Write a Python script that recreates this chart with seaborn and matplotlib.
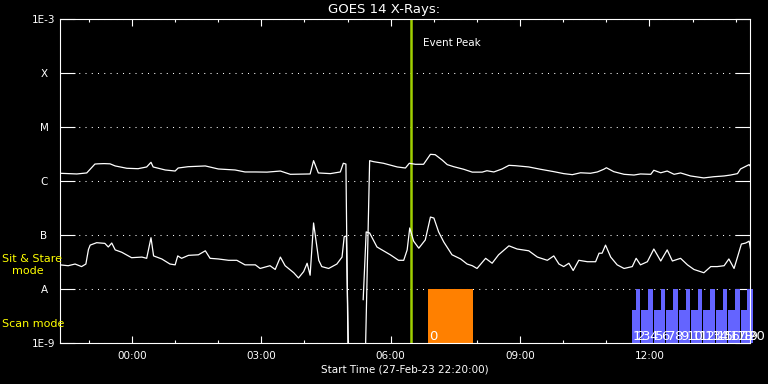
import numpy as np
import pandas as pd
import matplotlib
matplotlib.use("Agg")
import matplotlib.pyplot as plt
import matplotlib.dates as mdates
from matplotlib.ticker import NullLocator
import seaborn as sns

start = pd.Timestamp("2023-02-27 22:20:00")
span_h = 16.0

# GOES 14 long channel (1-8 A): hours since start, flux in 1e-6 W/m^2
long_h = [0.00, 0.39, 0.62, 0.81, 0.88, 1.02, 1.16, 1.28, 1.55, 1.81,
          2.01, 2.11, 2.16, 2.44, 2.67, 2.74, 2.97, 3.37, 3.67, 4.06,
          4.29, 4.53, 4.80, 5.11, 5.34, 5.80, 5.88, 5.99, 6.27, 6.50,
          6.57, 6.63, 6.69,
          7.06, 7.18, 7.27, 7.50, 7.82, 8.01, 8.10, 8.24, 8.43, 8.59,
          8.70, 8.86, 8.98, 9.13, 9.36, 9.56, 9.79, 9.90, 10.06, 10.25,
          10.41, 10.56, 10.87, 11.14, 11.45, 11.68, 11.88, 12.07, 12.30, 12.46,
          12.61, 12.67, 12.84, 13.08, 13.31, 13.46, 13.70, 13.77, 13.93, 14.08,
          14.24, 14.39, 14.62, 14.93, 15.16, 15.40, 15.55, 15.71, 15.78, 15.98,
          16.02]
long_flux = [1.39, 1.35, 1.41, 2.06, 2.08, 2.10, 2.08, 1.90, 1.72, 1.69,
             1.82, 2.22, 1.82, 1.60, 1.53, 1.74, 1.84, 1.90, 1.67, 1.60,
             1.47, 1.47, 1.46, 1.53, 1.33, 1.35, 2.38, 1.41, 1.37, 1.47,
             2.13, 2.06, 1e-4,
             1e-4, 2.38, 2.28, 2.13, 1.82, 1.74, 2.13, 2.04, 2.04, 3.12,
             3.07, 2.45, 2.01, 1.84, 1.65, 1.46, 1.46, 1.55, 1.47, 1.67,
             1.95, 1.92, 1.82, 1.65, 1.49, 1.37, 1.31, 1.42, 1.39, 1.47,
             1.65, 1.76, 1.49, 1.33, 1.29, 1.35, 1.33, 1.58, 1.42, 1.53,
             1.33, 1.41, 1.24, 1.14, 1.20, 1.24, 1.29, 1.37, 1.67, 2.01,
             1.82]

# short channel (0.5-4 A): hours since start, flux in 1e-8 W/m^2
short_h = [0.00, 0.19, 0.35, 0.50, 0.60, 0.66, 0.70, 0.85, 1.04, 1.12,
           1.20, 1.28, 1.43, 1.66, 1.90, 2.01, 2.11, 2.17, 2.36, 2.55,
           2.67, 2.73, 2.82, 2.98, 3.21, 3.37, 3.48, 3.67, 3.91, 4.10,
           4.29, 4.53, 4.64, 4.87, 4.99, 5.11, 5.22, 5.42, 5.53, 5.65,
           5.73, 5.80, 5.88, 6.00, 6.07, 6.23, 6.42, 6.54, 6.59, 6.64,
           6.71,
           7.03, 7.10, 7.18, 7.35, 7.66, 7.85, 7.97, 8.05, 8.11, 8.20,
           8.32, 8.47, 8.59, 8.67, 8.78, 8.90, 9.09, 9.29, 9.44, 9.56,
           9.67, 9.87, 10.02, 10.17, 10.41, 10.60, 10.87, 11.07, 11.30, 11.45,
           11.57, 11.68, 11.80, 11.90, 12.03, 12.23, 12.42, 12.50, 12.57, 12.65,
           12.77, 12.92, 13.08, 13.27, 13.36, 13.46, 13.62, 13.77, 13.93, 14.08,
           14.20, 14.39, 14.55, 14.70, 14.93, 15.09, 15.24, 15.40, 15.51, 15.63,
           15.71, 15.80, 15.90, 15.98, 16.02]
short_flux = [2.8, 2.7, 2.9, 2.6, 2.9, 5.4, 6.5, 7.2, 7.0, 6.0,
              7.1, 5.3, 4.8, 3.8, 3.9, 3.7, 8.9, 4.1, 3.6, 2.9,
              2.8, 4.1, 3.7, 4.2, 4.3, 5.1, 3.7, 3.6, 3.4, 3.4,
              2.8, 2.8, 2.4, 2.7, 2.3, 3.9, 2.7, 2.0, 1.6, 2.1,
              3.0, 1.8, 16.7, 3.4, 2.6, 2.4, 2.9, 3.9, 9.3, 9.6,
              0.01,
              0.63, 11.4, 10.9, 6.0, 4.3, 3.4, 3.4, 5.3, 13.5, 7.7,
              5.7, 8.1, 21.5, 20.6, 11.4, 7.4, 4.3, 3.6, 2.9, 2.7,
              2.4, 3.7, 3.0, 4.3, 6.3, 5.5, 5.1, 3.9, 3.4, 4.1,
              2.9, 2.6, 3.0, 2.2, 3.4, 3.2, 3.2, 4.6, 4.6, 6.5,
              3.9, 2.8, 2.4, 2.6, 3.7, 2.8, 3.2, 5.5, 3.3, 5.3,
              3.3, 3.7, 2.8, 2.3, 2.0, 2.6, 2.6, 2.7, 3.6, 2.4,
              3.9, 6.8, 7.1, 7.7, 5.1]

gap_h = 6.85  # data dropout between the two segments
peak_time = pd.Timestamp("2023-02-28 06:29")

# observing plan blocks (hours since start)
plan_start_h = [8.54, 13.26, 13.36, 13.48, 13.64, 13.77, 13.93, 14.06, 14.22, 14.35, 14.51,
                14.63, 14.79, 14.92, 15.08, 15.21, 15.37, 15.50, 15.66, 15.78, 15.94]
plan_end_h = [9.58, 13.36, 13.46, 13.64, 13.74, 13.93, 14.03, 14.22, 14.32, 14.51, 14.61,
              14.79, 14.89, 15.08, 15.18, 15.37, 15.47, 15.66, 15.76, 15.94, 16.07]
plan_mode = ["stare"] + ["scan", "stare"] * 10
plan_label = [str(i) for i in range(21)]
plan_color = ["#ff8000"] + ["#6464ff"] * 20
mode_top = {"stare": 1e-8, "scan": 4.1e-9}

levels = [1e-9, 1e-8, 1e-7, 1e-6, 1e-5, 1e-4, 1e-3]
level_labels = ["1E-9", "A", "B", "C", "M", "X", "1E-3"]

sns.set_theme(style="dark", rc={"axes.facecolor": "black", "figure.facecolor": "black",
                                "text.color": "white", "axes.edgecolor": "white"})
plt.rcParams["font.family"] = ["DejaVu Sans"]

long_df = pd.DataFrame({"h": long_h, "flux": np.array(long_flux) * 1e-6, "chan": "long"})
short_df = pd.DataFrame({"h": short_h, "flux": np.array(short_flux) * 1e-8, "chan": "short"})
df = pd.concat([long_df, short_df], ignore_index=True)
df["time"] = start + pd.to_timedelta(df["h"], unit="h")
df["unit"] = df["chan"] + np.where(df["h"] < gap_h, "_a", "_b")

fig = plt.figure(figsize=(7.68, 3.84), dpi=100)
ax = fig.add_axes([60 / 768, 41 / 384, 690 / 768, 324 / 384])

# plan bars
left = mdates.date2num(start + pd.to_timedelta(plan_start_h, unit="h"))
right = mdates.date2num(start + pd.to_timedelta(plan_end_h, unit="h"))
tops = np.array([mode_top[m] for m in plan_mode])
bars = ax.bar(left, tops - 1e-9, bottom=1e-9, width=right - left, align="edge",
              color=plan_color, linewidth=0, zorder=1)
for p in bars:
    p.set_clip_on(False)

sns.lineplot(data=df, x="time", y="flux", units="unit", estimator=None,
             color="white", lw=0.9, ax=ax, legend=False, zorder=3)

ax.set_yscale("log")
ax.set_ylim(1e-9, 1e-3)
ax.set_xlim(start, start + pd.Timedelta(hours=span_h))

for x0, lab in zip(left, plan_label):
    ax.text(x0 + 0.0008, 1.14e-9, lab, color="white", fontsize=9.5,
            ha="left", va="baseline", zorder=4)

ax.axvline(peak_time, color="#a0d000", lw=1.8, zorder=2)
ax.annotate("Event Peak", xy=(mdates.date2num(peak_time), 3.6e-4), xytext=(8, 0),
            textcoords="offset points", color="white", fontsize=7.5, va="center")

ax.set_yticks(levels)
ax.set_yticklabels(level_labels)
ax.yaxis.set_minor_locator(NullLocator())
ax.yaxis.grid(True, color="white", linestyle=(0, (1, 5)), linewidth=0.75)
ax.xaxis.grid(False)
ax.tick_params(axis="y", which="major", direction="in", length=10.5, width=0.8,
               color="white", labelcolor="white", left=True, right=True,
               pad=11.5, labelsize=7.5)
for lbl in ax.get_yticklabels():
    lbl.set_ha("center")

ax.xaxis.set_major_locator(mdates.HourLocator(byhour=range(0, 24, 3)))
ax.xaxis.set_minor_locator(mdates.HourLocator())
ax.xaxis.set_major_formatter(mdates.DateFormatter("%H:%M"))
ax.tick_params(axis="x", which="major", direction="in", length=4.7, width=0.8,
               color="white", labelcolor="white", bottom=True, top=True,
               pad=6, labelsize=7.5)
ax.tick_params(axis="x", which="minor", direction="in", length=2.5, width=0.8,
               color="white", bottom=True, top=True)

for s in ax.spines.values():
    s.set_color("white")
    s.set_linewidth(0.8)

ax.set_xlabel("Start Time (27-Feb-23 22:20:00)", color="white", fontsize=7.5, labelpad=2)
ax.set_ylabel("")
fig.text(0.5, 1 - 10 / 384, "GOES 14 X-Rays:", ha="center", va="center",
         color="white", fontsize=9.5)

yellow = "#ffff00"
fig.text(2 / 768, 1 - 259 / 384, "Sit & Stare", color=yellow, fontsize=8, va="center")
fig.text(12 / 768, 1 - 271 / 384, "mode", color=yellow, fontsize=8, va="center")
fig.text(2 / 768, 1 - 324 / 384, "Scan mode", color=yellow, fontsize=8, va="center")

fig.savefig("out.png", dpi=100, facecolor="black")
